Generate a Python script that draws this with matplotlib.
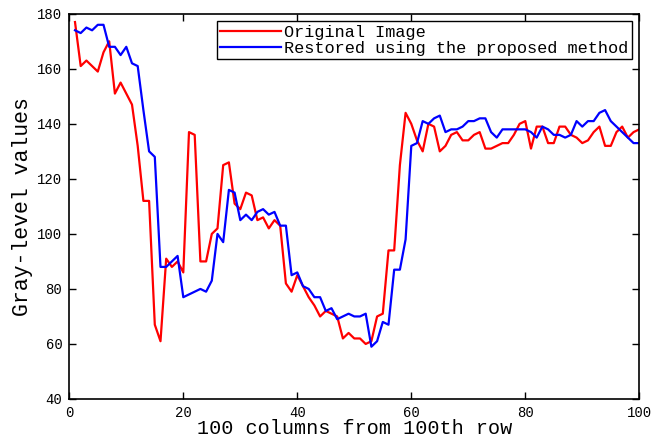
import numpy as np
import matplotlib
matplotlib.use("Agg")
import matplotlib.pyplot as plt

plt.rcParams['font.family'] = ['Liberation Mono', 'DejaVu Sans Mono']

columns = list(range(1, 101))

original = [177, 161, 163, 161, 159, 166, 170, 151, 155, 151,
            147, 132, 112, 112, 67, 61, 91, 88, 90, 86,
            137, 136, 90, 90, 100, 102, 125, 126, 111, 109,
            115, 114, 105, 106, 102, 105, 103, 82, 79, 85,
            81, 77, 74, 70, 72, 71, 70, 62, 64, 62,
            62, 60, 61, 70, 71, 94, 94, 125, 144, 140,
            134, 130, 140, 139, 130, 132, 136, 137, 134, 134,
            136, 137, 131, 131, 132, 133, 133, 136, 140, 141,
            131, 139, 139, 133, 133, 139, 139, 136, 135, 133,
            134, 137, 139, 132, 132, 137, 139, 135, 137, 138]

restored = [174, 173, 175, 174, 176, 176, 168, 168, 165, 168,
            162, 161, 145, 130, 128, 88, 88, 90, 92, 77,
            78, 79, 80, 79, 83, 100, 97, 116, 115, 105,
            107, 105, 108, 109, 107, 108, 103, 103, 85, 86,
            81, 80, 77, 77, 72, 73, 69, 70, 71, 70,
            70, 71, 59, 61, 68, 67, 87, 87, 98, 132,
            133, 141, 140, 142, 143, 137, 138, 138, 139, 141,
            141, 142, 142, 137, 135, 138, 138, 138, 138, 138,
            137, 135, 139, 138, 136, 136, 135, 136, 141, 139,
            141, 141, 144, 145, 141, 139, 137, 135, 133, 133]

fig = plt.figure(figsize=(6.55, 4.45), dpi=100)
ax = fig.add_axes([0.1058, 0.1034, 0.8702, 0.8656])

ax.plot(columns, original, color='#ff0000', linewidth=1.6, label='Original Image')
ax.plot(columns, restored, color='#0000ff', linewidth=1.6,
        label='Restored using the proposed method')

ax.set_xlim(0, 100)
ax.set_ylim(40, 180)
ax.set_xticks(np.arange(0, 101, 20))
ax.set_yticks(np.arange(40, 181, 20))
ax.tick_params(direction='in', length=5, width=1, top=True, right=True,
               labelsize=10, pad=5, colors='black')
for sp in ax.spines.values():
    sp.set_linewidth(1.2)

ax.set_xlabel('100 columns from 100th row', fontsize=14.5, labelpad=-1)
ax.set_ylabel('Gray-level values', fontsize=15.5, labelpad=3)

leg = ax.legend(loc='upper right', fontsize=12.2, fancybox=False,
                edgecolor='black', framealpha=1, borderaxespad=0.45,
                handlelength=3.6, handletextpad=0.15, borderpad=0.2,
                labelspacing=0.05)
leg.get_frame().set_linewidth(1.0)

fig.savefig('out.png', dpi=100)
